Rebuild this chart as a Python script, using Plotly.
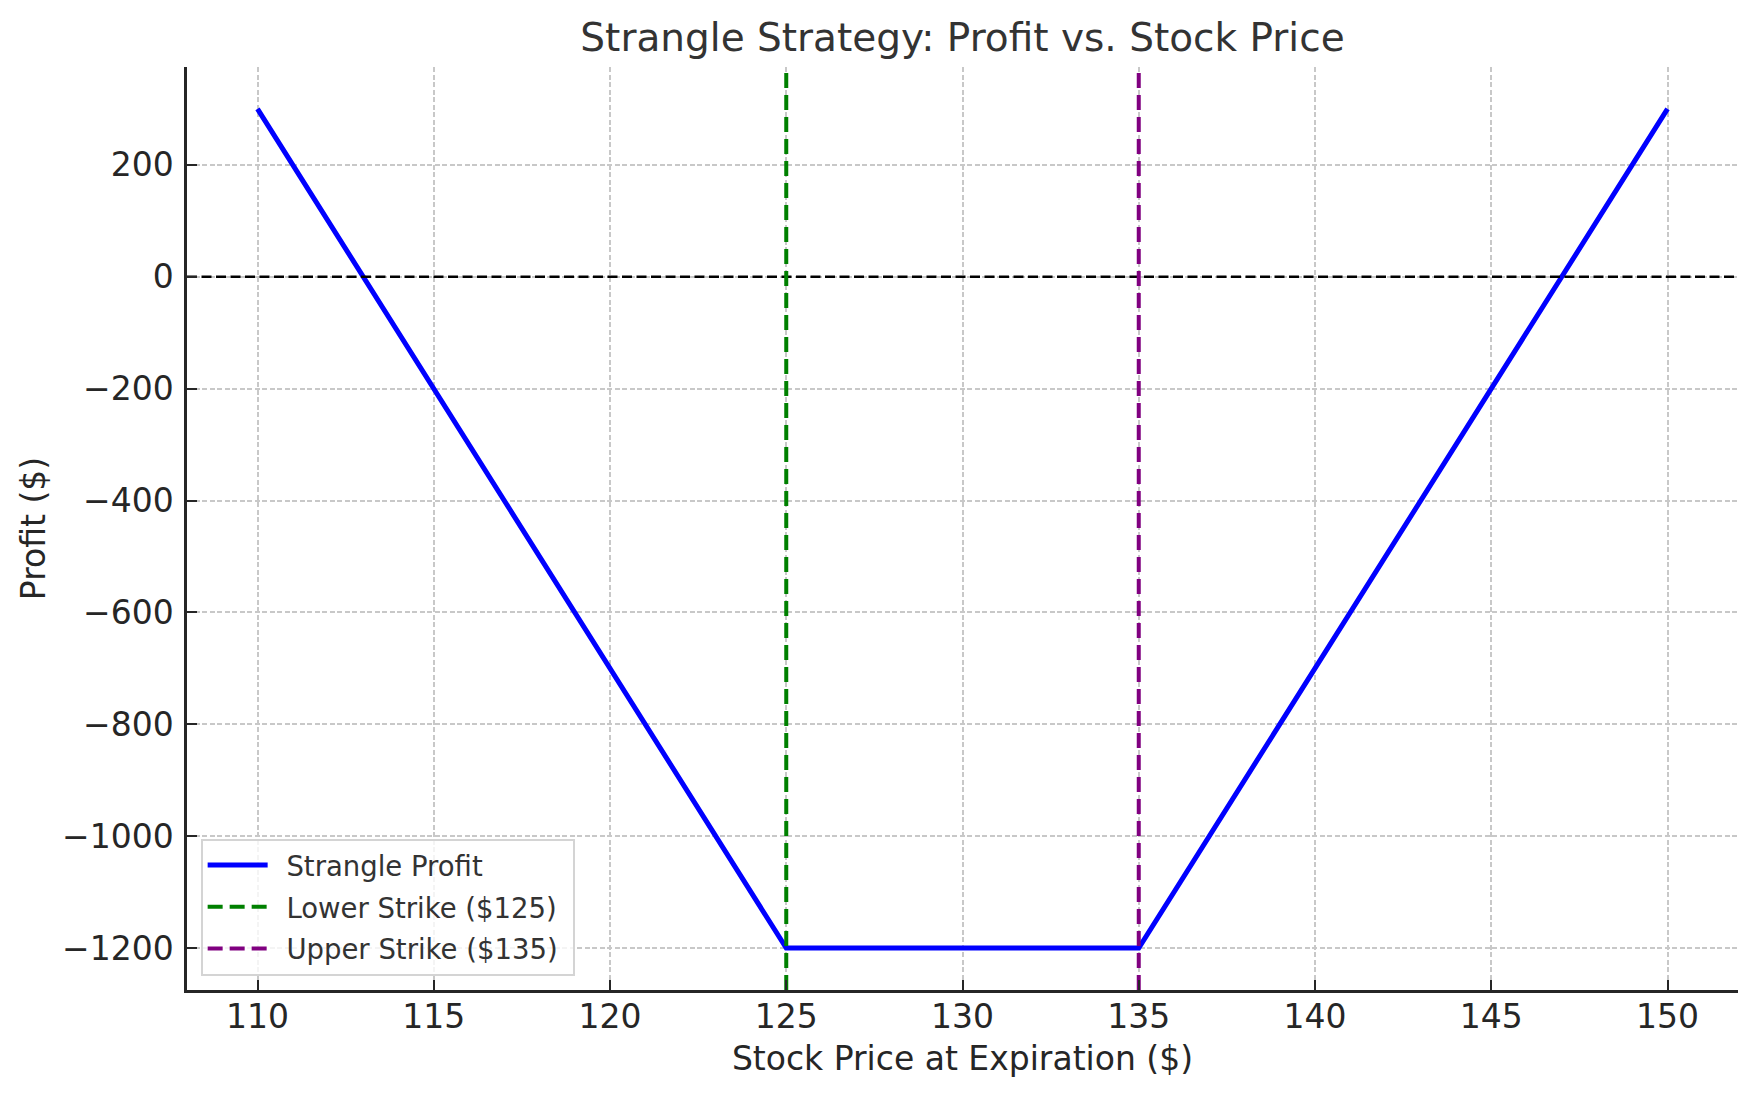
import plotly.graph_objects as go

# strangle payoff at the kink points
stock_price = [110, 125, 135, 150]
profit = [300, -1200, -1200, 300]

lower_strike = 125
upper_strike = 135

x_ticks = [110, 115, 120, 125, 130, 135, 140, 145, 150]
y_ticks = [-1200, -1000, -800, -600, -400, -200, 0, 200]
x_range = [108, 152]
y_range = [-1275, 375]

FONT = "DejaVu Sans"
TXT = "#262626"
GAP = "\u2002"   # room between legend sample and label
TAIL = "\u2004"  # a bit of right padding inside the legend box

fig = go.Figure()

fig.add_trace(go.Scatter(
    x=stock_price, y=profit, mode="lines", name=GAP + "Strangle Profit" + TAIL,
    legendgroup="a", line=dict(color="blue", width=5),
))
# break-even line at zero
fig.add_trace(go.Scatter(
    x=x_range, y=[0, 0], mode="lines", showlegend=False, hoverinfo="skip",
    line=dict(color="black", width=2.7, dash="10px,4.5px"),
))
fig.add_trace(go.Scatter(
    x=[lower_strike, lower_strike], y=y_range, mode="lines",
    name=f"{GAP}Lower Strike (${lower_strike}){TAIL}", legendgroup="b",
    line=dict(color="green", width=4, dash="15px,7px"),
))
fig.add_trace(go.Scatter(
    x=[upper_strike, upper_strike], y=y_range, mode="lines",
    name=f"{GAP}Upper Strike (${upper_strike}){TAIL}", legendgroup="c",
    line=dict(color="purple", width=4, dash="15px,7px"),
))

axis_common = dict(
    showline=True, linecolor=TXT, linewidth=2.5, mirror=False,
    ticks="inside", ticklen=10, tickwidth=1.6, tickcolor=TXT,
    showgrid=True, gridcolor="#c8c8c8", gridwidth=1.5, griddash="5px,2.5px",
    zeroline=False,
    tickfont=dict(family=FONT, size=33, color=TXT),
)

fig.update_xaxes(
    range=x_range, tickvals=x_ticks, ticklabelstandoff=-4, **axis_common,
    title=dict(text="Stock Price at Expiration ($)", font=dict(family=FONT, size=33, color=TXT), standoff=12),
)
fig.update_yaxes(
    range=y_range, tickvals=y_ticks, ticklabelstandoff=4, **axis_common,
    title=dict(text="Profit ($)", font=dict(family=FONT, size=33, color=TXT), standoff=7),
)

fig.update_layout(
    width=1756, height=1097,
    margin=dict(l=187, r=18, t=67, b=107),
    plot_bgcolor="white", paper_bgcolor="white",
    font=dict(family=FONT, color=TXT),
    title=dict(
        text="Strangle Strategy: Profit vs. Stock Price",
        font=dict(family=FONT, size=39, color="#333333"),
        x=0.5, xref="paper", xanchor="center",
        y=1 - 37 / 1097, yanchor="middle",
    ),
    legend=dict(
        x=0.0088, y=0.0155, xanchor="left", yanchor="bottom",
        bgcolor="rgba(255,255,255,0.8)", bordercolor="#d4d4d4", borderwidth=2,
        font=dict(family=FONT, size=27.5, color="#333333"),
        itemwidth=60, tracegroupgap=3,
    ),
    showlegend=True,
)

# drop the default body margin so the figure sits at the page corner
fig.write_html(
    "out.html",
    config={"displayModeBar": False},
    post_script="document.body.style.margin='0px';",
)
